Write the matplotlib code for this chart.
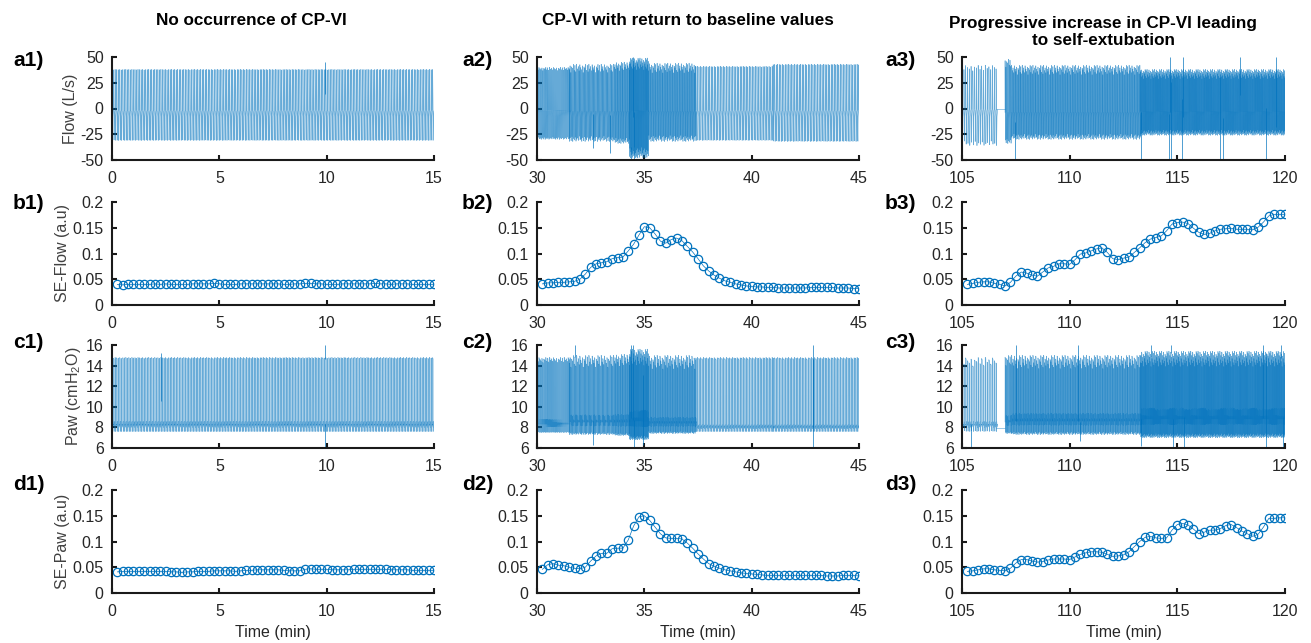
import numpy as np
import matplotlib
matplotlib.use("Agg")
import matplotlib.pyplot as plt
from matplotlib.collections import LineCollection
from matplotlib.ticker import FormatStrFormatter

plt.rcParams['font.family'] = ['Liberation Sans', 'DejaVu Sans']
plt.rcParams['mathtext.default'] = 'regular'
plt.rcParams['axes.unicode_minus'] = False

# column titles and time windows (min)
titles = ["No occurrence of CP-VI", "CP-VI with return to baseline values",
          "Progressive increase in CP-VI leading\nto self-extubation"]
xlims = [(0, 15), (30, 45), (105, 120)]

# breathing segments per column: boundaries (min), breaths/min, irregularity
seg_bounds = [[0, 15],
              [30, 31.5, 33.6, 34.3, 35.2, 37.4, 41, 45],
              [105, 106.6, 107.0, 107.3, 113.3, 120]]
seg_rate = [[14],
            [22, 26, 30, 44, 30, 14, 14],
            [12, 0, 26, 30, 44]]
seg_irr = [[0.03],
           [0.15, 0.35, 0.35, 0.45, 0.4, 0.04, 0.04],
           [0.25, 0, 0.3, 0.4, 0.45]]

# flow (L/s) levels per segment
flow_peak = [[38], [40, 43, 45, 49, 44, 41, 43], [42, 0, 48, 42, 38]]
flow_trough = [[-31], [-30, -32, -34, -48, -32, -31, -32], [-36, 0, -34, -30, -26]]
flow_base = [[-2], [-2, -3, -3, -2, -3, -2, -2], [-1, 0, -4, -4, -3]]
flow_spike_t = [[9.9], [32.6, 33.4, 34.4, 34.45, 34.5],
                [107.45, 113.3, 114.6, 114.7, 115.2, 117.0, 117.1, 119.1, 114.65, 115.25, 117.9, 119.6]]
flow_spike_v = [[45], [-38, -43, -50, 50, -50],
                [-50, -50, -50, -50, -50, -50, -50, -50, 50, 50, 50, 50]]

# airway pressure (cmH2O) levels per segment
paw_peak = [[14.8], [14.8, 15.0, 15.1, 15.6, 15.0, 14.8, 14.8], [14.8, 0, 15.0, 15.0, 15.4]]
paw_trough = [[7.6], [7.5, 7.3, 7.2, 6.8, 7.4, 7.6, 7.6], [7.6, 0, 7.4, 7.3, 7.0]]
paw_base = [[8.2], [8.3, 8.5, 8.5, 8.6, 8.4, 8.0, 8.0], [8.2, 7.9, 8.5, 8.6, 8.8]]
paw_spike_t = [[2.3, 9.9, 9.92], [31.77, 32.6, 34.38, 34.45, 34.5, 34.94, 42.84, 42.86],
               [105.4, 107.5, 110.4, 110.5, 113.3, 113.8, 114.7, 114.8, 115.3, 119.0, 119.1, 119.8, 119.9]]
paw_spike_v = [[15.2, 16, 6], [16, 6.3, 16, 16, 6, 6.3, 16, 6],
               [6, 16, 16, 6.7, 6.2, 16, 16, 6, 6, 16, 6, 16, 6]]

# relative breath sizes, cycled through the breaths
jitter = [0.93, 0.55, 1.0, 0.72, 0.86, 0.61, 0.97, 0.8, 0.67, 0.9, 0.5, 0.84, 0.76, 0.99, 0.63]

# one breath: time fraction, share of (peak-base), share of (trough-base)
flow_shape_t = [0, 0.05, 0.30, 0.34, 0.55, 0.85, 1.0]
flow_shape_up = [0, 1, 0.05, 0, 0, 0, 0]
flow_shape_dn = [0, 0, 0, 1, 0.2, 0.03, 0]
paw_shape_t = [0, 0.03, 0.33, 0.36, 0.42, 0.55, 0.7, 1.0]
paw_shape_up = [0, 1, 0.98, 0, 0, 0, 0, 0]
paw_shape_dn = [0, 0, 0, 1, -0.6, 0.3, -0.2, 0]

# sample entropy, one value every 15 s
se_flow = [
    [0.040, 0.039, 0.040, 0.040, 0.040, 0.040, 0.040, 0.041, 0.040, 0.041,
     0.040, 0.040, 0.040, 0.040, 0.041, 0.041, 0.041, 0.041, 0.042, 0.041,
     0.040, 0.040, 0.040, 0.041, 0.041, 0.041, 0.041, 0.041, 0.041, 0.041,
     0.041, 0.040, 0.040, 0.041, 0.041, 0.042, 0.042, 0.041, 0.041, 0.040,
     0.040, 0.040, 0.041, 0.041, 0.041, 0.041, 0.041, 0.041, 0.042, 0.041,
     0.041, 0.040, 0.041, 0.041, 0.041, 0.040, 0.040, 0.040, 0.040, 0.040],
    [0.041, 0.043, 0.043, 0.044, 0.044, 0.045, 0.046, 0.050, 0.060, 0.073,
     0.080, 0.082, 0.084, 0.090, 0.092, 0.093, 0.105, 0.118, 0.136, 0.152,
     0.150, 0.138, 0.124, 0.120, 0.127, 0.130, 0.125, 0.114, 0.103, 0.090,
     0.076, 0.066, 0.058, 0.052, 0.047, 0.044, 0.041, 0.039, 0.037, 0.036,
     0.035, 0.035, 0.034, 0.034, 0.033, 0.033, 0.033, 0.033, 0.033, 0.033,
     0.034, 0.034, 0.034, 0.034, 0.034, 0.033, 0.033, 0.033, 0.032, 0.032],
    [0.040, 0.042, 0.044, 0.045, 0.045, 0.042, 0.040, 0.037, 0.044, 0.056,
     0.064, 0.062, 0.058, 0.056, 0.064, 0.072, 0.075, 0.080, 0.080, 0.079,
     0.088, 0.099, 0.101, 0.105, 0.109, 0.111, 0.102, 0.090, 0.088, 0.091,
     0.093, 0.102, 0.111, 0.121, 0.128, 0.131, 0.134, 0.144, 0.157, 0.160,
     0.161, 0.158, 0.149, 0.141, 0.137, 0.139, 0.144, 0.147, 0.148, 0.149,
     0.147, 0.147, 0.147, 0.146, 0.151, 0.161, 0.173, 0.176, 0.176, 0.176]]
se_paw = [
    [0.041, 0.042, 0.042, 0.042, 0.042, 0.042, 0.042, 0.042, 0.042, 0.042,
     0.041, 0.041, 0.040, 0.041, 0.041, 0.042, 0.042, 0.042, 0.043, 0.043,
     0.043, 0.043, 0.042, 0.043, 0.044, 0.044, 0.045, 0.045, 0.045, 0.045,
     0.045, 0.044, 0.043, 0.043, 0.043, 0.046, 0.047, 0.046, 0.046, 0.046,
     0.045, 0.045, 0.045, 0.045, 0.046, 0.046, 0.046, 0.046, 0.046, 0.046,
     0.046, 0.045, 0.045, 0.045, 0.045, 0.044, 0.044, 0.044, 0.044, 0.044],
    [0.046, 0.055, 0.057, 0.054, 0.053, 0.050, 0.048, 0.047, 0.050, 0.062,
     0.072, 0.077, 0.077, 0.086, 0.087, 0.087, 0.103, 0.130, 0.148, 0.150,
     0.141, 0.128, 0.115, 0.107, 0.106, 0.106, 0.105, 0.097, 0.087, 0.076,
     0.066, 0.057, 0.052, 0.048, 0.045, 0.043, 0.041, 0.039, 0.038, 0.037,
     0.036, 0.035, 0.034, 0.034, 0.034, 0.034, 0.034, 0.034, 0.034, 0.034,
     0.034, 0.034, 0.034, 0.033, 0.033, 0.033, 0.034, 0.034, 0.034, 0.033],
    [0.042, 0.043, 0.045, 0.047, 0.047, 0.045, 0.044, 0.043, 0.048, 0.058,
     0.065, 0.065, 0.062, 0.060, 0.061, 0.064, 0.066, 0.066, 0.066, 0.065,
     0.070, 0.075, 0.078, 0.080, 0.080, 0.079, 0.075, 0.071, 0.072, 0.074,
     0.080, 0.090, 0.100, 0.108, 0.110, 0.107, 0.106, 0.107, 0.122, 0.133,
     0.135, 0.132, 0.124, 0.115, 0.118, 0.122, 0.122, 0.125, 0.131, 0.133,
     0.127, 0.120, 0.115, 0.110, 0.114, 0.128, 0.145, 0.145, 0.146, 0.146]]

ylabels = ["Flow (L/s)", "SE-Flow (a.u)", "Paw (cmH$_2$O)", "SE-Paw (a.u)"]
row_letters = ["a", "b", "c", "d"]

blue = '#0072BD'
dark = '#262626'


def breath_trace(bounds, rate, irr, peak, trough, base, sh_t, sh_up, sh_dn):
    # one polyline per breath, so overlapping breaths build up colour
    lines = []
    n = len(jitter)
    k = 0
    for i in range(len(rate)):
        if rate[i] == 0:
            lines.append(np.array([[bounds[i], base[i]], [bounds[i + 1], base[i]]]))
            continue
        t = bounds[i]
        p_irr = max(irr[i], 0.25)   # breath length always varies a little
        while t < bounds[i + 1]:
            per = (1 + p_irr * (jitter[k % n] - 0.8)) / rate[i]
            a = 1 - irr[i] * (1 - jitter[(k + 4) % n])
            b = 1 - irr[i] * (1 - jitter[(k + 9) % n])
            pts = []
            for st, su, sd in zip(sh_t, sh_up, sh_dn):
                pts.append([t + st * per,
                            base[i] + su * a * (peak[i] - base[i]) + sd * b * (trough[i] - base[i])])
            lines.append(np.array(pts))
            t += per
            k += 1
    return lines


W, H = 1311, 643
col_x = [(112, 434), (537, 859), (962, 1285)]
row_y = [(57, 160), (202, 305), (345, 448), (490, 593)]
label_x = [13, 462, 885]
label_y = [60, 203, 342, 484]
title_x = [251, 688, 1103]
title_y = [25, 25, 45]

fig = plt.figure(figsize=(W / 100, H / 100), dpi=100)

for c in range(3):
    for r in range(4):
        x0, x1 = col_x[c]
        y0, y1 = row_y[r]
        ax = fig.add_axes([x0 / W, 1 - y1 / H, (x1 - x0) / W, (y1 - y0) / H])

        if r == 0 or r == 2:
            if r == 0:
                pk, tr, bs = flow_peak[c], flow_trough[c], flow_base[c]
                sh = (flow_shape_t, flow_shape_up, flow_shape_dn)
                sp_t, sp_v = flow_spike_t[c], flow_spike_v[c]
            else:
                pk, tr, bs = paw_peak[c], paw_trough[c], paw_base[c]
                sh = (paw_shape_t, paw_shape_up, paw_shape_dn)
                sp_t, sp_v = paw_spike_t[c], paw_spike_v[c]
            lines = breath_trace(seg_bounds[c], seg_rate[c], seg_irr[c], pk, tr, bs, *sh)
            ax.add_collection(LineCollection(lines, colors=blue, linewidths=0.45, alpha=0.6))
            allpts = np.vstack(lines)
            order = np.argsort(allpts[:, 0])
            sp_base = np.interp(sp_t, allpts[order, 0], allpts[order, 1])
            ax.vlines(sp_t, sp_base, sp_v, color=blue, lw=0.6, alpha=0.8)
        else:
            vals = se_flow[c] if r == 1 else se_paw[c]
            ts = xlims[c][0] + 0.25 * (1 + np.arange(len(vals)))
            ax.plot(ts, vals, '-o', color=blue, lw=0.5, ms=6, mfc='none', mew=0.9)

        ax.set_xlim(*xlims[c])
        ax.set_xticks(np.arange(xlims[c][0], xlims[c][1] + 1, 5))
        if r == 0:
            ax.set_ylim(-50, 50)
            ax.set_yticks([-50, -25, 0, 25, 50])
        elif r == 2:
            ax.set_ylim(6, 16)
            ax.set_yticks([6, 8, 10, 12, 14, 16])
        else:
            ax.set_ylim(0, 0.2)
            ax.set_yticks([0, 0.05, 0.1, 0.15, 0.2])
            ax.yaxis.set_major_formatter(FormatStrFormatter('%g'))

        for s in ['top', 'right']:
            ax.spines[s].set_visible(False)
        for s in ['left', 'bottom']:
            ax.spines[s].set_linewidth(1.5)
            ax.spines[s].set_color('#1a1a1a')
        ax.tick_params(direction='in', length=3.5, width=1.5, colors='#1a1a1a',
                       labelcolor=dark, labelsize=11.5)
        ax.tick_params(axis='x', pad=8)
        ax.tick_params(axis='y', pad=6)

        if c == 0:
            ax.set_ylabel(ylabels[r], fontsize=11.5, color='#404040', labelpad=2)
        if r == 3:
            ax.set_xlabel("Time (min)", fontsize=11.5, color=dark, labelpad=4)

        fig.text(label_x[c] / W, 1 - label_y[r] / H, row_letters[r] + str(c + 1) + ")",
                 fontsize=15, fontweight='bold', ha='left', va='center')

    fig.text(title_x[c] / W, 1 - title_y[c] / H, titles[c], fontsize=12.3, fontweight='bold',
             ha='center', va='baseline', linespacing=1.15)

fig.savefig("out.png", dpi=100)
